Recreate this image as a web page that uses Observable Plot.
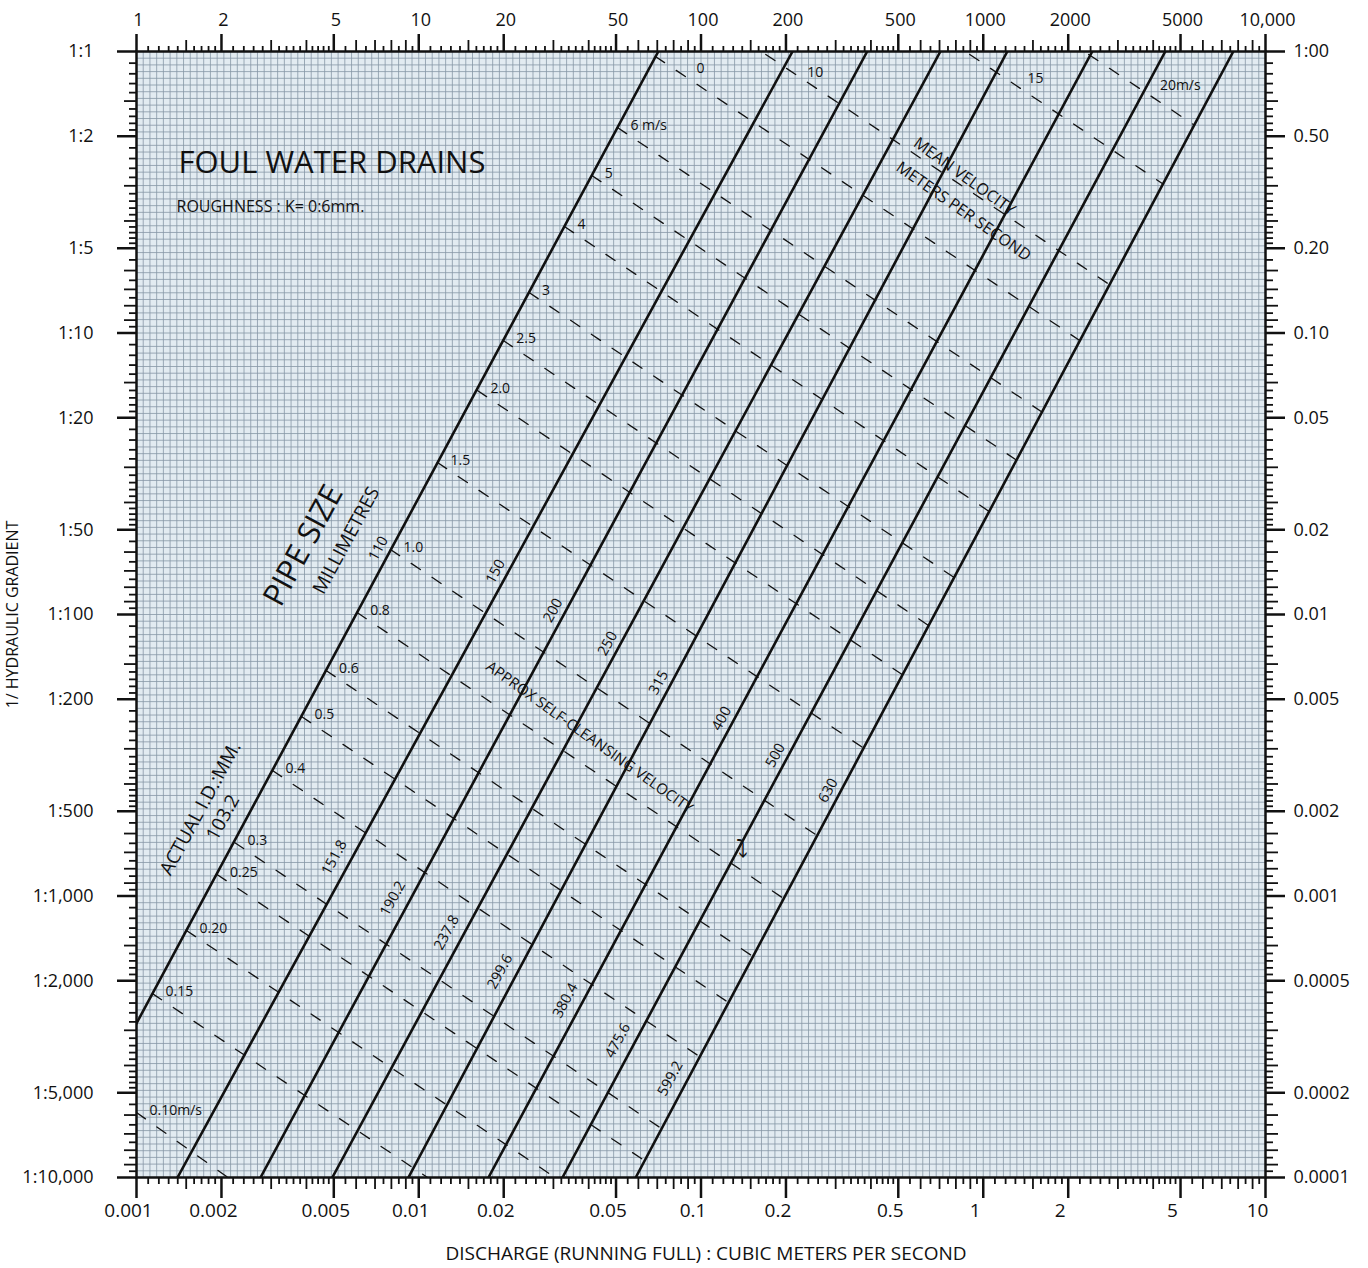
<!DOCTYPE html>
<html><head><meta charset="utf-8">
<script src="https://cdn.jsdelivr.net/npm/d3@7"></script>
<script src="https://cdn.jsdelivr.net/npm/@observablehq/plot@0.6"></script>
<style>body{margin:0;background:#fff;}</style>
</head><body><div id="chart"></div>
<script>
// ---------------- DATA ----------------
const pipeNominal = ["110","150","200","250","315","400","500","630"];
const pipeActual  = ["103.2","151.8","190.2","237.8","299.6","380.4","475.6","599.2"];
// discharge (m3/s) where each pipe line meets gradient 1:1 and 1:10,000
const pipeQAtGrad1     = [0.0706, 0.211, 0.388, 0.705, 1.217, 2.434, 4.416, 7.69];
const pipeQAtGrad10000 = [0.000509, 0.001397, 0.00275, 0.00494, 0.00919, 0.01766, 0.0323, 0.0587];

// mean-velocity lines (dashed): start / end
const velLabels = ["0.10m/s","0.15","0.20","0.25","0.3","0.4","0.5","0.6","0.8","1.0","1.5","2.0","2.5","3","4","5","6 m/s","0","10","15","20m/s"];
const velStartQ = [0.001, 0.001139, 0.001503, 0.001929, 0.002224, 0.003032, 0.003841, 0.004694, 0.006049, 0.007938, 0.01165, 0.01614, 0.01992, 0.02459, 0.03281, 0.04104, 0.05057, 0.06895, 0.1432, 0.756, 1.995];
const velStartS = [0.0001702, 0.00045, 0.000754, 0.001192, 0.00155, 0.002791, 0.004341, 0.006326, 0.01016, 0.01702, 0.03467, 0.06246, 0.09405, 0.1393, 0.239, 0.3627, 0.537, 0.9599, 1.094, 1.094, 1.094];
const velEndQ   = [0.002207, 0.01128, 0.03192, 0.06302, 0.07241, 0.0987, 0.1251, 0.1527, 0.1963, 0.2577, 0.3763, 0.5161, 0.6401, 0.7888, 1.05, 1.31, 1.614, 2.197, 2.797, 4.335, 5.591];
const velEndS   = [0.0000968, 0.0000968, 0.0000968, 0.0001149, 0.0001493, 0.0002691, 0.0004184, 0.0006099, 0.0009797, 0.00164, 0.003356, 0.006121, 0.009139, 0.01353, 0.02322, 0.03538, 0.05242, 0.09405, 0.1487, 0.3383, 0.5478];

// axes
const xTickValues   = [0.001,0.002,0.005,0.01,0.02,0.05,0.1,0.2,0.5,1,2,5,10];
const xBottomLabels = ["0.001","0.002","0.005","0.01","0.02","0.05","0.1","0.2","0.5","1","2","5","10"];
const xTopLabels    = ["1","2","5","10","20","50","100","200","500","1000","2000","5000","10,000"];
const yTickValues   = [1,0.5,0.2,0.1,0.05,0.02,0.01,0.005,0.002,0.001,0.0005,0.0002,0.0001];
const yLeftLabels   = ["1:1","1:2","1:5","1:10","1:20","1:50","1:100","1:200","1:500","1:1,000","1:2,000","1:5,000","1:10,000"];
const yRightLabels  = ["1:00","0.50","0.20","0.10","0.05","0.02","0.01","0.005","0.002","0.001","0.0005","0.0002","0.0001"];

// ---------------- LAYOUT ----------------
const W = 1368, H = 1268;
const mL = 136, mR = 103, mT = 51, mB = 91;
const font = "'Open Sans', 'Noto Sans', sans-serif";
const gridFill = "#e2ebf1", gridStroke = "#8797a6";
const pipeAngle = -61.5;
const ink = "#111";

const lg = Math.log10;
function along(q1, s1, q2, s2, t) {
  return [10 ** (lg(q1) + t * (lg(q2) - lg(q1))), 10 ** (lg(s1) + t * (lg(s2) - lg(s1)))];
}

// pipe lines
const pipeRows = [];
pipeNominal.forEach((n, i) => {
  pipeRows.push({pipe: i, q: pipeQAtGrad1[i], s: 1});
  pipeRows.push({pipe: i, q: pipeQAtGrad10000[i], s: 0.0001});
});
// label positions along pipe (fraction from 1:1 to 1:10,000)
const nomT = [0.4414, 0.4618, 0.4964, 0.5258, 0.5604, 0.5924, 0.6252, 0.6563];
const actT = [0.6803, 0.7158, 0.7522, 0.7824, 0.8171, 0.8428, 0.8783, 0.9121];
const nomRows = pipeNominal.map((n, i) => {
  const [q, s] = along(pipeQAtGrad1[i], 1, pipeQAtGrad10000[i], 0.0001, nomT[i]);
  return {q, s, text: n};
});
const actRows = pipeActual.map((n, i) => {
  const [q, s] = along(pipeQAtGrad1[i], 1, pipeQAtGrad10000[i], 0.0001, actT[i]);
  return {q, s, text: n, first: i === 0};
});

// velocity lines
const velRows = [];
velLabels.forEach((v, i) => {
  velRows.push({v: i, q: velStartQ[i], s: velStartS[i]});
  velRows.push({v: i, q: velEndQ[i], s: velEndS[i]});
});
const velLabelRows = velLabels.slice(0, 17).map((v, i) => ({q: velStartQ[i], s: velStartS[i], text: v}));
// upper labels: [index, t along line, dx, dy]
const upperLab = [[17, 0.0825, 10, -11], [18, 0.16, 12, -7], [19, 0.287, 25, -3], [20, 0.652, 30, -10]];
const upperRows = upperLab.map(([i, t, dx, dy]) => {
  const [q, s] = along(velStartQ[i], velStartS[i], velEndQ[i], velEndS[i], t);
  return {q, s, text: velLabels[i], dx, dy};
});

// grid (graph paper)
const gridX = d3.range(0, 169).map(k => 10 ** (-3 + k / 42));
const gridY = d3.range(0, 169).map(k => 10 ** (-k / 42));

// minor ticks
const mantSmall = [1.1,1.2,1.3,1.4,1.6,1.7,1.8,1.9,2.2,2.4,2.6,2.8,3.2,3.4,3.6,3.8,4.2,4.4,4.6,4.8,5.5,6.5,7.5,8.5,9.5];
const mantMid = [1.5,3,4,6,7,8,9];
const xMinor = m => [-3,-2,-1,0].flatMap(k => m.map(v => v * 10 ** k));
const yMinor = m => [0,1,2,3].flatMap(k => m.map(v => 1 / (v * 10 ** k)));
const noLabel = () => "";

const anno = (txt, px, py, o) => Plot.text([txt], Object.assign({frameAnchor: "top-left", dx: px - mL, dy: py - mT, textAnchor: "middle", lineAnchor: "middle", fill: ink}, o));

const chart = Plot.plot({
  width: W, height: H,
  marginLeft: mL, marginRight: mR, marginTop: mT, marginBottom: mB,
  style: {fontFamily: font, color: ink, background: "#fff"},
  x: {type: "log", domain: [0.001, 10]},
  y: {type: "log", domain: [0.0001, 1]},
  marks: [
    Plot.frame({fill: gridFill}),
    Plot.ruleX(gridX, {stroke: gridStroke, strokeWidth: 0.8}),
    Plot.ruleY(gridY, {stroke: gridStroke, strokeWidth: 0.8}),

    // velocity lines
    Plot.line(velRows, {x: "q", y: "s", z: "v", stroke: ink, strokeWidth: 1.3, strokeDasharray: "11,14", clip: true}),
    // pipe lines
    Plot.line(pipeRows, {x: "q", y: "s", z: "pipe", stroke: ink, strokeWidth: 2.6, clip: true}),

    // velocity labels
    Plot.text(velLabelRows, {x: "q", y: "s", text: "text", textAnchor: "start", dx: 13, dy: -2, fontSize: 14, fill: ink}),
    ...upperRows.map(r => Plot.text([r], {x: "q", y: "s", text: "text", dx: r.dx, dy: r.dy, fontSize: 14, fill: ink})),

    // pipe labels
    Plot.text(nomRows, {x: "q", y: "s", text: "text", rotate: pipeAngle, dx: -13, fontSize: 14.5, fill: ink}),
    Plot.text(actRows.filter(d => !d.first), {x: "q", y: "s", text: "text", rotate: pipeAngle, dx: -18, fontSize: 14.5, fill: ink}),
    Plot.text(actRows.filter(d => d.first), {x: "q", y: "s", text: "text", rotate: pipeAngle, dx: -24, fontSize: 19, fill: ink}),
    anno("ACTUAL I.D.:MM.", 200, 808, {rotate: pipeAngle, fontSize: 19}),
    anno("PIPE SIZE", 303, 545, {rotate: pipeAngle, fontSize: 31}),
    anno("MILLIMETRES", 346, 540, {rotate: pipeAngle, fontSize: 19}),

    // annotations
    anno("FOUL WATER DRAINS", 178, 163, {textAnchor: "start", fontSize: 31}),
    anno("ROUGHNESS : K= 0:6mm.", 176, 206, {textAnchor: "start", fontSize: 16}),
    anno("MEAN VELOCITY", 964, 176, {rotate: 35.8, fontSize: 16}),
    anno("METERS PER SECOND", 963, 211, {rotate: 35, fontSize: 16}),
    anno("APPROX SELF-CLEANSING VELOCITY", 589, 737, {rotate: 35.5, fontSize: 15}),
    anno("⤵", 741, 849, {fontSize: 24}),

    // axes: ticks
    Plot.axisX({anchor: "bottom", ticks: xTickValues, tickFormat: noLabel, tickSize: 21, strokeWidth: 2.5, label: null}),
    Plot.axisX({anchor: "bottom", ticks: xMinor(mantSmall), tickFormat: noLabel, tickSize: 7, strokeWidth: 1.8, label: null}),
    Plot.axisX({anchor: "bottom", ticks: xMinor(mantMid), tickFormat: noLabel, tickSize: 12, strokeWidth: 1.8, label: null}),
    Plot.axisX({anchor: "top", ticks: xTickValues, tickFormat: noLabel, tickSize: 18, strokeWidth: 2.5, label: null}),
    Plot.axisX({anchor: "top", ticks: xMinor(mantSmall), tickFormat: noLabel, tickSize: 6, strokeWidth: 1.8, label: null}),
    Plot.axisX({anchor: "top", ticks: xMinor(mantMid), tickFormat: noLabel, tickSize: 12, strokeWidth: 1.8, label: null}),
    Plot.axisY({anchor: "left", ticks: yTickValues, tickFormat: noLabel, tickSize: 19, strokeWidth: 2.5, label: null}),
    Plot.axisY({anchor: "left", ticks: yMinor(mantSmall), tickFormat: noLabel, tickSize: 7, strokeWidth: 1.8, label: null}),
    Plot.axisY({anchor: "left", ticks: yMinor(mantMid), tickFormat: noLabel, tickSize: 12, strokeWidth: 1.8, label: null}),
    Plot.axisY({anchor: "right", ticks: yTickValues, tickFormat: noLabel, tickSize: 19, strokeWidth: 2.5, label: null}),
    Plot.axisY({anchor: "right", ticks: yMinor(mantSmall), tickFormat: noLabel, tickSize: 7, strokeWidth: 1.8, label: null}),
    Plot.axisY({anchor: "right", ticks: yMinor(mantMid), tickFormat: noLabel, tickSize: 12, strokeWidth: 1.8, label: null}),

    // axes: tick labels
    Plot.text(xTickValues, {x: d => d, text: (d, i) => xBottomLabels[i], frameAnchor: "bottom", lineAnchor: "middle", textAnchor: "middle", dy: 33, dx: -8, fontSize: 19, fill: ink}),
    Plot.text(xTickValues, {x: d => d, text: (d, i) => xTopLabels[i], frameAnchor: "top", lineAnchor: "middle", textAnchor: "middle", dy: -31, dx: 2, fontSize: 18, fill: ink}),
    Plot.text(yTickValues, {y: d => d, text: (d, i) => yLeftLabels[i], frameAnchor: "left", lineAnchor: "middle", textAnchor: "end", dx: -43, fontSize: 18, fill: ink}),
    Plot.text(yTickValues, {y: d => d, text: (d, i) => yRightLabels[i], frameAnchor: "right", lineAnchor: "middle", textAnchor: "start", dx: 28, fontSize: 18, fill: ink}),

    // axis titles
    Plot.text(["DISCHARGE (RUNNING FULL) : CUBIC METERS PER SECOND"], {frameAnchor: "bottom", lineAnchor: "middle", textAnchor: "middle", dy: 76, dx: 5, fontSize: 19, fill: ink}),
    Plot.text(["1/ HYDRAULIC GRADIENT"], {frameAnchor: "left", textAnchor: "middle", lineAnchor: "middle", dx: -124, rotate: -90, fontSize: 16, fill: ink}),

    Plot.frame({stroke: ink, strokeWidth: 2.5})
  ]
});
document.getElementById("chart").appendChild(chart);
</script>
</body></html>
